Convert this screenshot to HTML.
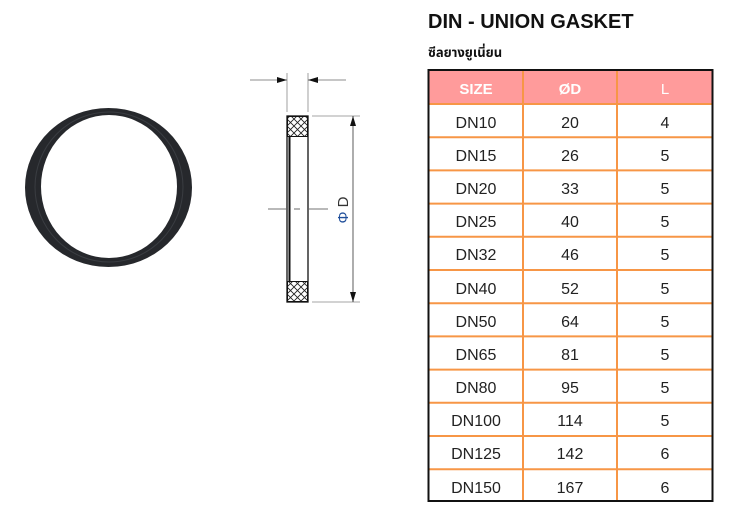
<!DOCTYPE html>
<html><head><meta charset="utf-8"><style>
html,body{margin:0;padding:0;background:#fff;}
svg{display:block;}
text{font-family:"Liberation Sans","DejaVu Sans",sans-serif;}
</style></head><body>
<svg width="741" height="523" viewBox="0 0 741 523" xmlns="http://www.w3.org/2000/svg">
<defs>
<pattern id="hx" width="7" height="7" patternUnits="userSpaceOnUse">
<path d="M0 0L7 7M7 0L0 7" stroke="#222" stroke-width="0.9"/>
</pattern>
<marker id="ar" markerWidth="10" markerHeight="6" refX="10" refY="3" orient="auto" markerUnits="userSpaceOnUse">
<path d="M0 0L10 3L0 6z" fill="#111"/></marker>
</defs>
<!-- ring -->
<path fill-rule="evenodd" fill="#26282c" d="M25 187.5a83.5 79.5 0 1 0 167 0a83.5 79.5 0 1 0 -167 0z M41 186.5a68 71.5 0 1 0 136 0a68 71.5 0 1 0 -136 0z"/>
<ellipse cx="109" cy="187" rx="74" ry="75" fill="none" stroke="#3a3d42" stroke-width="1"/>
<!-- section -->
<rect x="287" y="116" width="21" height="186" fill="none" stroke="#111" stroke-width="1.3"/>
<rect x="287.5" y="116.5" width="20" height="20" fill="url(#hx)" stroke="#111"/>
<rect x="287.5" y="281.5" width="20" height="20" fill="url(#hx)" stroke="#111"/>
<line x1="289.5" y1="136" x2="289.5" y2="282" stroke="#111" stroke-width="2"/>
<!-- top dims -->
<line x1="287" y1="73" x2="287" y2="112" stroke="#888" stroke-width="0.8"/>
<line x1="308" y1="73" x2="308" y2="112" stroke="#888" stroke-width="0.8"/>
<line x1="250" y1="80" x2="287" y2="80" stroke="#666" stroke-width="0.8" marker-end="url(#ar)"/>
<line x1="346" y1="80" x2="308" y2="80" stroke="#666" stroke-width="0.8" marker-end="url(#ar)"/>
<!-- D dims -->
<line x1="312" y1="116" x2="360" y2="116" stroke="#888" stroke-width="0.8"/>
<line x1="312" y1="302" x2="360" y2="302" stroke="#888" stroke-width="0.8"/>
<line x1="353" y1="209" x2="353" y2="116" stroke="#333" stroke-width="0.8" marker-end="url(#ar)"/>
<line x1="353" y1="209" x2="353" y2="302" stroke="#333" stroke-width="0.8" marker-end="url(#ar)"/>
<line x1="268" y1="209" x2="286" y2="209" stroke="#444" stroke-width="0.8"/>
<line x1="294" y1="209" x2="300" y2="209" stroke="#444" stroke-width="0.8"/>
<line x1="309" y1="209" x2="328" y2="209" stroke="#444" stroke-width="0.8"/>
<text transform="translate(348,210) rotate(-90)" text-anchor="middle" font-size="15" fill="#333"><tspan fill="#1f4e9a">Φ</tspan> D</text>
<!-- title -->
<text x="428" y="28" font-size="20" font-weight="bold" fill="#111">DIN - UNION GASKET</text>
<text x="428" y="57" font-size="13" font-weight="bold" fill="#111" style='font-family:"Liberation Sans","DejaVu Sans","Noto Sans Thai",sans-serif'>ซีลยางยูเนี่ยน</text>
<!-- table -->
<rect x="429" y="71" width="283" height="33" fill="#ff9b9b"/>
<g stroke="#f79646" stroke-width="2">
<line x1="523" y1="71" x2="523" y2="501"/>
<line x1="617" y1="71" x2="617" y2="501"/>
<line x1="429" y1="104" x2="712" y2="104"/><line x1="429" y1="137.2" x2="712" y2="137.2"/><line x1="429" y1="170.4" x2="712" y2="170.4"/><line x1="429" y1="203.6" x2="712" y2="203.6"/><line x1="429" y1="236.8" x2="712" y2="236.8"/><line x1="429" y1="270" x2="712" y2="270"/><line x1="429" y1="303.2" x2="712" y2="303.2"/><line x1="429" y1="336.4" x2="712" y2="336.4"/><line x1="429" y1="369.6" x2="712" y2="369.6"/><line x1="429" y1="402.8" x2="712" y2="402.8"/><line x1="429" y1="436" x2="712" y2="436"/><line x1="429" y1="469.2" x2="712" y2="469.2"/>
</g>
<rect x="428.5" y="70" width="284" height="431" fill="none" stroke="#111" stroke-width="2"/>
<g font-size="15" fill="#fff" text-anchor="middle" font-weight="bold">
<text x="476" y="94">SIZE</text><text x="570" y="94">ØD</text><text x="665" y="94" font-weight="normal">L</text>
</g>
<g font-size="16" fill="#222" text-anchor="middle">
<text x="476" y="128">DN10</text><text x="570" y="128">20</text><text x="665" y="128">4</text>
<text x="476" y="161">DN15</text><text x="570" y="161">26</text><text x="665" y="161">5</text>
<text x="476" y="194">DN20</text><text x="570" y="194">33</text><text x="665" y="194">5</text>
<text x="476" y="227">DN25</text><text x="570" y="227">40</text><text x="665" y="227">5</text>
<text x="476" y="260">DN32</text><text x="570" y="260">46</text><text x="665" y="260">5</text>
<text x="476" y="294">DN40</text><text x="570" y="294">52</text><text x="665" y="294">5</text>
<text x="476" y="327">DN50</text><text x="570" y="327">64</text><text x="665" y="327">5</text>
<text x="476" y="360">DN65</text><text x="570" y="360">81</text><text x="665" y="360">5</text>
<text x="476" y="393">DN80</text><text x="570" y="393">95</text><text x="665" y="393">5</text>
<text x="476" y="426">DN100</text><text x="570" y="426">114</text><text x="665" y="426">5</text>
<text x="476" y="459">DN125</text><text x="570" y="459">142</text><text x="665" y="459">6</text>
<text x="476" y="493">DN150</text><text x="570" y="493">167</text><text x="665" y="493">6</text>
</g>
</svg>
</body></html>
